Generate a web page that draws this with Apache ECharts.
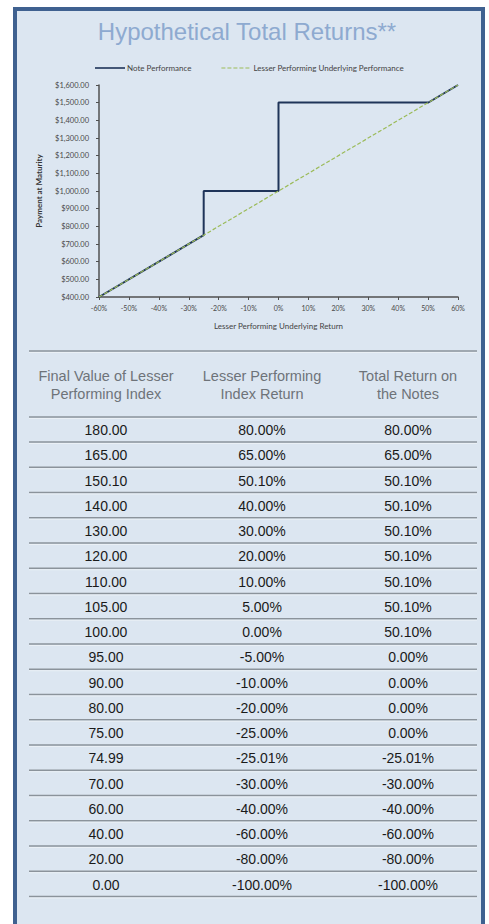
<!DOCTYPE html>
<html>
<head>
<meta charset="utf-8">
<script src="https://cdn.jsdelivr.net/npm/echarts@6/dist/echarts.min.js"></script>
<style>
html,body{margin:0;padding:0;background:#fff;}
#c{width:489px;height:924px;}
</style>
</head>
<body>
<div id="c"></div>
<script>
// ---- Data ----
var titleText = 'Hypothetical Total Returns**';
var seriesNames = ['Note Performance', 'Lesser Performing Underlying Performance'];
var noteReturn = [-60, -25.01, -25, 0, 0, 50.1, 60];
var notePayment = [400, 749.9, 1000, 1000, 1501, 1501, 1600];
var underlyingReturn = [-60, 60];
var underlyingPayment = [400, 1600];
var xAxisName = 'Lesser Performing Underlying Return';
var yAxisName = 'Payment at Maturity';

var tableHeaders = [
  ['Final Value of Lesser', 'Performing Index'],
  ['Lesser Performing', 'Index Return'],
  ['Total Return on', 'the Notes']
];
var finalValues = ['180.00','165.00','150.10','140.00','130.00','120.00','110.00','105.00','100.00','95.00','90.00','80.00','75.00','74.99','70.00','60.00','40.00','20.00','0.00'];
var indexReturns = ['80.00%','65.00%','50.10%','40.00%','30.00%','20.00%','10.00%','5.00%','0.00%','-5.00%','-10.00%','-20.00%','-25.00%','-25.01%','-30.00%','-40.00%','-60.00%','-80.00%','-100.00%'];
var noteReturns = ['80.00%','65.00%','50.10%','50.10%','50.10%','50.10%','50.10%','50.10%','50.10%','0.00%','0.00%','0.00%','0.00%','-25.01%','-30.00%','-40.00%','-60.00%','-80.00%','-100.00%'];

// ---- Build ----
var chart = echarts.init(document.getElementById('c'), null, {renderer: 'svg'});

function pairs(xs, ys) { return xs.map(function (x, i) { return [x, ys[i]]; }); }

var graphics = [];
// panel
graphics.push({
  type: 'rect', z: -10, silent: true,
  shape: {x: 15, y: 9, width: 468, height: 940},
  style: {fill: '#dce6f1', stroke: '#3f6190', lineWidth: 4}
});
// title
graphics.push({
  type: 'text', silent: true,
  style: {text: titleText, x: 247, y: 31, align: 'center', verticalAlign: 'middle',
    fontFamily: 'Liberation Sans, Arial, sans-serif', fontSize: 24, fill: '#8eaad0'}
});

var colX = [106, 262, 408];
function hline(y) {
  graphics.push({type: 'line', silent: true, shape: {x1: 29, y1: y, x2: 477, y2: y},
    style: {stroke: '#8b939b', lineWidth: 1.6}});
  graphics.push({type: 'line', silent: true, shape: {x1: 29, y1: y + 1.5, x2: 477, y2: y + 1.5},
    style: {stroke: '#eef3f8', lineWidth: 0.8}});
}
hline(351);
hline(417);
tableHeaders.forEach(function (h, i) {
  graphics.push({type: 'text', silent: true,
    style: {text: h.join('\n'), x: colX[i], y: 384.5, align: 'center', verticalAlign: 'middle',
      lineHeight: 18, fontFamily: 'Liberation Sans, Arial, sans-serif', fontSize: 14.5, fill: '#6e7379'}});
});
var rowStep = 25.25;
var cols = [finalValues, indexReturns, noteReturns];
for (var r = 0; r < finalValues.length; r++) {
  var yc = 430 + r * rowStep;
  for (var c = 0; c < 3; c++) {
    graphics.push({type: 'text', silent: true,
      style: {text: cols[c][r], x: colX[c], y: yc, align: 'center', verticalAlign: 'middle',
        fontFamily: 'Liberation Sans, Arial, sans-serif', fontSize: 14, fill: '#1a1a1a'}});
  }
  hline(442 + r * rowStep);
}

var small = {fontFamily: 'Lato, sans-serif', color: '#4a4a4a'};

chart.setOption({
  backgroundColor: '#ffffff',
  animation: false,
  graphic: graphics,
  legend: {
    left: 90, top: 59, itemWidth: 30, itemHeight: 8, itemGap: 30,
    textStyle: {fontFamily: 'Lato, sans-serif', fontSize: 8, color: '#444', padding: [0, 0, 0, -3]},
    data: [
      {name: seriesNames[0], icon: 'path://M0,4L30,4L30,5.6L0,5.6Z'},
      {name: seriesNames[1], icon: 'path://M0,4.2L4,4.2L4,5.4L0,5.4Z M6,4.2L10,4.2L10,5.4L6,5.4Z M12,4.2L16,4.2L16,5.4L12,5.4Z M18,4.2L22,4.2L22,5.4L18,5.4Z M24,4.2L28,4.2L28,5.4L24,5.4Z M30,4.2L30,5.4Z'}
    ]
  },
  grid: {left: 99, right: 31, top: 85, bottom: 627, containLabel: false, outerBoundsMode: 'none'},
  xAxis: {
    type: 'value', min: -60, max: 60, interval: 10,
    name: xAxisName, nameLocation: 'middle', nameGap: 25,
    nameTextStyle: {fontFamily: 'Lato, sans-serif', fontSize: 8, color: '#444'},
    axisLine: {onZero: false, lineStyle: {color: '#505050', width: 1.5}},
    axisTick: {show: true, length: 3, lineStyle: {color: '#505050'}},
    axisLabel: {formatter: function (v) { return v + '%'; }, fontSize: 7, margin: 7, fontFamily: small.fontFamily, color: small.color},
    splitLine: {show: false}
  },
  yAxis: {
    type: 'value', min: 400, max: 1600, interval: 100,
    name: yAxisName, nameLocation: 'middle', nameGap: 56, nameRotate: 90,
    nameTextStyle: {fontFamily: 'Lato, sans-serif', fontSize: 8, fontWeight: 'bold', color: '#333'},
    axisLine: {show: true, onZero: false, lineStyle: {color: '#505050', width: 1.5}},
    axisTick: {show: true, length: 3, lineStyle: {color: '#505050'}},
    axisLabel: {
      formatter: function (v) { return '$' + v.toLocaleString('en-US', {minimumFractionDigits: 2, maximumFractionDigits: 2}); },
      fontSize: 7.5, margin: 10, fontFamily: small.fontFamily, color: small.color
    },
    splitLine: {show: false}
  },
  series: [
    {
      name: seriesNames[0], type: 'line', symbol: 'none', z: 2,
      data: pairs(noteReturn, notePayment),
      lineStyle: {color: '#1f3459', width: 2},
      itemStyle: {color: '#1f3459'}
    },
    {
      name: seriesNames[1], type: 'line', symbol: 'none', z: 3,
      data: pairs(underlyingReturn, underlyingPayment),
      lineStyle: {color: '#9bbb59', width: 1.2, type: [4, 2]},
      itemStyle: {color: '#9bbb59'}
    }
  ]
});
</script>
</body>
</html>
